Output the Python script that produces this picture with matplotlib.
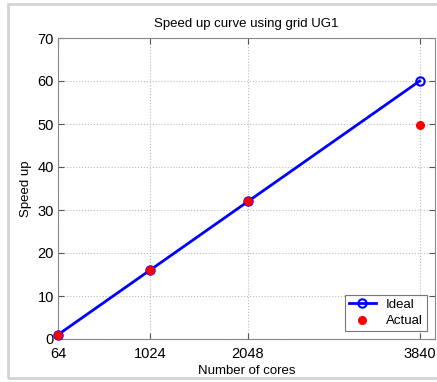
import matplotlib
matplotlib.use('Agg')
import matplotlib.pyplot as plt
from matplotlib.patches import Rectangle

plt.rcParams['font.family'] = ['Liberation Sans', 'DejaVu Sans']

cores = [64, 1024, 2048, 3840]
ideal = [1, 16, 32, 60]
actual = [1, 16, 32, 49.7]

fig = plt.figure(figsize=(4.37, 3.82), dpi=100)
# light grey frame around the figure
fig.patches.append(Rectangle((8/437, 4/382), 440/437, 374/382, transform=fig.transFigure,
                             fill=False, edgecolor='#d4d4d4', linewidth=2))
ax = fig.add_axes([58/437, 43/382, 377/437, 301/382])

ax.plot(cores, ideal, color='blue', linestyle='-', linewidth=2, marker='o',
        markerfacecolor='none', markeredgecolor='blue', markersize=6, markeredgewidth=1.5,
        label='Ideal', clip_on=False, zorder=3)
ax.plot(cores, actual, linestyle='none', marker='o', color='red', markersize=5.5,
        label='Actual', clip_on=False, zorder=4)

ax.set_xlim(64, 4000)
ax.set_ylim(0, 70)
ax.set_xticks(cores)
ax.set_xticklabels([str(c) for c in cores])
ax.set_yticks(range(0, 71, 10))
ax.tick_params(direction='in', top=True, right=True, labelsize=10.5, length=4, color='#555555', pad=3)
ax.tick_params(axis='x', pad=6)
ax.grid(True, linestyle=':', color='#bbbbbb', linewidth=0.8)
for s in ax.spines.values():
    s.set_color('#888888')
ax.set_xlabel('Number of cores', fontsize=9.5, labelpad=3)
ax.set_ylabel('Speed up', fontsize=9.5)
ax.yaxis.set_label_coords(-0.068, 0.5)
ax.set_title('Speed up curve using grid UG1', fontsize=9.5, pad=8)
leg = ax.legend(loc='lower right', fontsize=9.5, fancybox=False, edgecolor='#555555',
                borderaxespad=0.6, handlelength=2.0, borderpad=0.3, labelspacing=0.3)
leg.get_frame().set_linewidth(0.8)

fig.savefig('out.png', dpi=100)
